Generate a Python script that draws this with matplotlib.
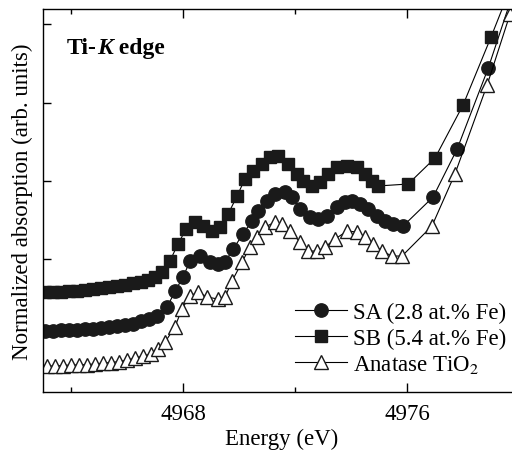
import numpy as np
import matplotlib
matplotlib.use("Agg")
import matplotlib.pyplot as plt

#Ti K-edge XANES, three samples
#values, y is in arbitrary units (ticks at 1..4)

plt.rcParams['font.family'] = ['Liberation Serif', 'DejaVu Serif']
plt.rcParams['mathtext.fontset'] = 'stix'

#SA (2.8 at.% Fe), circles
sa_energy = [4963.06, 4963.35, 4963.63, 4963.92, 4964.20, 4964.49, 4964.78, 4965.06,
             4965.35, 4965.63, 4965.92, 4966.20, 4966.49, 4966.78, 4967.06, 4967.42,
             4967.71, 4967.99, 4968.24, 4968.60, 4968.95, 4969.24, 4969.49, 4969.78,
             4970.13, 4970.45, 4970.67, 4970.99, 4971.28, 4971.64, 4971.88, 4972.17,
             4972.53, 4972.81, 4973.13, 4973.49, 4973.78, 4974.03, 4974.31, 4974.60,
             4974.92, 4975.20, 4975.49, 4975.85, 4976.92, 4977.78, 4978.89, 4979.85]
sa_abs = [0.079, 0.079, 0.086, 0.092, 0.092, 0.105, 0.111, 0.118,
          0.130, 0.143, 0.156, 0.175, 0.207, 0.233, 0.271, 0.386,
          0.591, 0.770, 0.974, 1.038, 0.962, 0.936, 0.962, 1.128,
          1.320, 1.486, 1.614, 1.742, 1.831, 1.857, 1.793, 1.639,
          1.537, 1.512, 1.550, 1.665, 1.729, 1.742, 1.703, 1.639,
          1.550, 1.486, 1.448, 1.422, 1.793, 2.407, 3.442, 4.478]

#SB (5.4 at.% Fe), squares
sb_energy = [4963.06, 4963.35, 4963.63, 4963.92, 4964.20, 4964.49, 4964.78, 4965.06,
             4965.35, 4965.63, 4965.92, 4966.20, 4966.49, 4966.74, 4966.99, 4967.24,
             4967.52, 4967.81, 4968.10, 4968.42, 4968.70, 4969.03, 4969.31, 4969.60,
             4969.92, 4970.20, 4970.49, 4970.81, 4971.10, 4971.38, 4971.74, 4972.06,
             4972.28, 4972.60, 4972.88, 4973.17, 4973.49, 4973.85, 4974.20, 4974.49,
             4974.74, 4974.95, 4976.03, 4976.99, 4977.99, 4978.99, 4979.95]
sb_abs = [0.578, 0.578, 0.584, 0.591, 0.597, 0.604, 0.616, 0.629,
          0.642, 0.655, 0.668, 0.687, 0.706, 0.731, 0.770, 0.834,
          0.974, 1.192, 1.384, 1.473, 1.422, 1.358, 1.409, 1.575,
          1.806, 2.023, 2.125, 2.215, 2.304, 2.317, 2.215, 2.087,
          1.997, 1.934, 1.985, 2.087, 2.176, 2.189, 2.176, 2.087,
          1.997, 1.934, 1.959, 2.292, 2.969, 3.839, 4.708]

#anatase TiO2 reference, open triangles
ana_energy = [4963.13, 4963.42, 4963.70, 4963.99, 4964.28, 4964.56, 4964.85, 4965.13,
              4965.42, 4965.70, 4965.99, 4966.28, 4966.56, 4966.85, 4967.10, 4967.35,
              4967.70, 4967.95, 4968.24, 4968.53, 4968.85, 4969.24, 4969.49, 4969.74,
              4970.10, 4970.38, 4970.63, 4970.92, 4971.28, 4971.53, 4971.81, 4972.17,
              4972.45, 4972.78, 4973.06, 4973.42, 4973.85, 4974.20, 4974.49, 4974.78,
              4975.10, 4975.45, 4975.81, 4976.88, 4977.70, 4978.85, 4979.67]
ana_abs = [-0.368, -0.368, -0.362, -0.355, -0.355, -0.349, -0.343, -0.330,
           -0.324, -0.311, -0.292, -0.266, -0.240, -0.215, -0.151, -0.061,
           0.130, 0.361, 0.527, 0.578, 0.514, 0.488, 0.514, 0.719,
           0.962, 1.153, 1.281, 1.409, 1.473, 1.448, 1.358, 1.217,
           1.102, 1.102, 1.153, 1.256, 1.358, 1.345, 1.281, 1.192,
           1.102, 1.038, 1.038, 1.422, 2.087, 3.225, 4.133]

labels = ['SA (2.8 at.% Fe)', 'SB (5.4 at.% Fe)', 'Anatase TiO$_2$']

fig = plt.figure(figsize=(5.12, 4.52), dpi=100)
#the frame runs past the right edge of the picture, like the original
ax = fig.add_axes([0.0846, 0.1305, 0.9297, 0.8480])

ax.plot(sa_energy, sa_abs, '-', color='k', lw=0.8, marker='o', ms=9.6,
        mfc='#1a1a1a', mec='#1a1a1a', label=labels[0])
ax.plot(sb_energy, sb_abs, '-', color='k', lw=0.8, marker='s', ms=8.6,
        mfc='#1a1a1a', mec='#1a1a1a', label=labels[1])
ax.plot(ana_energy, ana_abs, '-', color='k', lw=0.8, marker='^', ms=10.4,
        mfc='white', mec='#1a1a1a', mew=1.0, label=labels[2])

ax.set_xlim(4963, 4980)
ax.set_ylim(-0.7008, 4.2008)

ax.set_xticks([4968, 4976])
ax.set_xticks([4964, 4972], minor=True)
ax.set_yticks([1, 2, 3, 4])
ax.set_yticklabels([])
ax.tick_params(axis='x', which='both', direction='in', top=True, labelsize=16.5, pad=8)
ax.tick_params(axis='x', which='major', length=6.5, width=1)
ax.tick_params(axis='x', which='minor', length=3.4, width=1)
ax.tick_params(axis='y', direction='in', length=5.8, width=1, right=False)
for side in ['left', 'bottom', 'top']:
    ax.spines[side].set_linewidth(1.0)
ax.spines['right'].set_visible(False)

ax.set_xlabel('Energy (eV)', fontsize=16.5, labelpad=3)
ax.set_ylabel('Normalized absorption (arb. units)', fontsize=16.5, labelpad=4)

#"Ti-K edge" with only the K in italics
t1 = ax.text(0.05, 0.872, 'Ti-', transform=ax.transAxes, fontsize=17,
             fontweight='bold', va='bottom')
t2 = ax.annotate('K', xy=(1, 0), xycoords=t1, fontsize=17, fontweight='bold',
                 fontstyle='italic', va='bottom')
ax.annotate(' edge', xy=(1, 0), xycoords=t2, fontsize=17, fontweight='bold',
            va='bottom')

ax.legend(loc='upper left', bbox_to_anchor=(295 / 512, 1 - 303 / 452),
          bbox_transform=fig.transFigure, frameon=False, fontsize=16.5,
          handlelength=2.26, handletextpad=0.26, labelspacing=0.2,
          borderpad=0, borderaxespad=0)

fig.savefig('out.png', dpi=100)
